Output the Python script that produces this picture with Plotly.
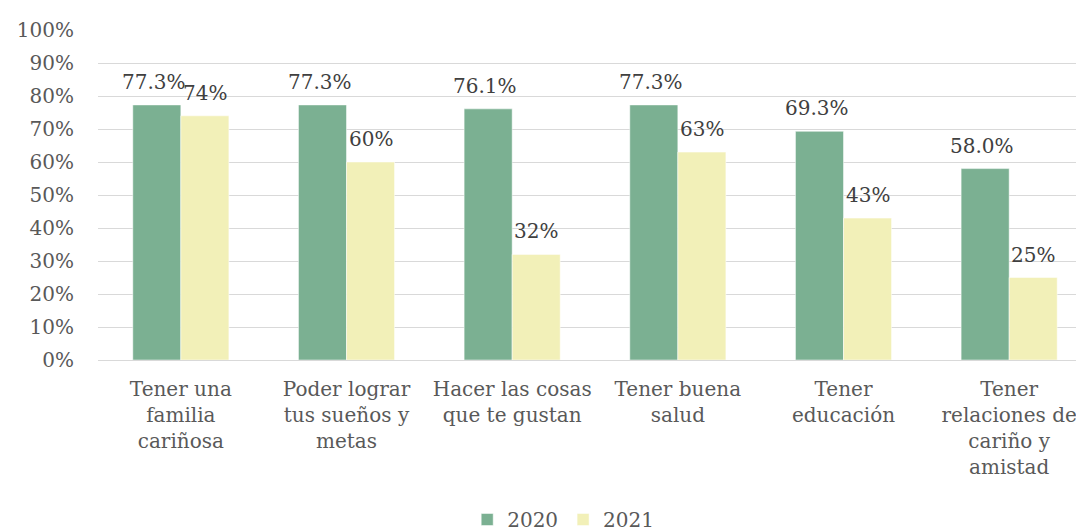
import plotly.graph_objects as go

categories = ["Tener una<br>familia<br>cariñosa", "Poder lograr<br>tus sueños y<br>metas",
              "Hacer las cosas<br>que te gustan", "Tener buena<br>salud",
              "Tener<br>educación", "Tener<br>relaciones de<br>cariño y<br>amistad"]
v2020 = [0.773, 0.773, 0.761, 0.773, 0.693, 0.580]
v2021 = [0.74, 0.60, 0.32, 0.63, 0.43, 0.25]
lab2020 = ["77.3%", "77.3%", "76.1%", "77.3%", "69.3%", "58.0%"]
lab2021 = ["74%", "60%", "32%", "63%", "43%", "25%"]

FONT = "DejaVu Serif"

fig = go.Figure()
fig.add_trace(go.Bar(x=categories, y=v2020, name="2020",
                     marker=dict(color="#7BB092", line=dict(color="#FFFFFF", width=0.5))))
fig.add_trace(go.Bar(x=categories, y=v2021, name="2021",
                     marker=dict(color="#F2F0B8", line=dict(color="#FFFFFF", width=0.5))))

for cat, val, lab in zip(categories, v2020, lab2020):
    fig.add_annotation(x=cat, y=val, text=lab, showarrow=False, yanchor="bottom",
                       xshift=-27, yshift=9, font=dict(size=20, color="#404040", family=FONT))
for cat, val, lab in zip(categories, v2021, lab2021):
    fig.add_annotation(x=cat, y=val, text=lab, showarrow=False, yanchor="bottom",
                       xshift=24, yshift=9, font=dict(size=20, color="#404040", family=FONT))

fig.update_layout(
    width=1084, height=531,
    margin=dict(l=90, r=0, t=22, b=172),
    paper_bgcolor="white", plot_bgcolor="white",
    barmode="group", bargap=0.42, bargroupgap=0,
    font=dict(family=FONT, size=19, color="#595959"),
    xaxis=dict(showgrid=False, showline=True, linecolor="#D9D9D9", linewidth=1,
               tickfont=dict(size=20, color="#595959", family=FONT), ticks="",
               ticklabelstandoff=11),
    yaxis=dict(range=[0, 1], dtick=0.1, tickformat=".0%", showgrid=True, gridcolor="#D9D9D9",
               gridwidth=1, zeroline=False, tickfont=dict(size=20, color="#595959", family=FONT),
               ticks="", ticklabelstandoff=23),
    legend=dict(orientation="h", x=0.468, xanchor="center", y=-0.485, yanchor="middle",
                font=dict(size=20, color="#595959", family=FONT), itemwidth=30),
)
fig.write_html("out.html")
